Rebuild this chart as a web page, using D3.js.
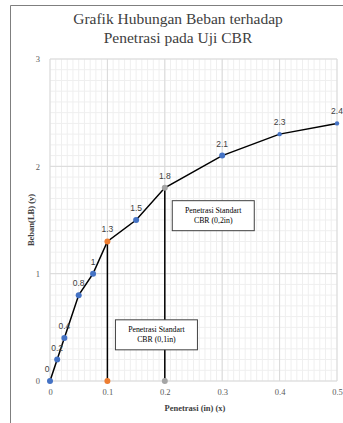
<!DOCTYPE html>
<html><head><meta charset="utf-8">
<script src="https://cdn.jsdelivr.net/npm/d3@7"></script>
<style>
html,body{margin:0;padding:0;background:#fff;}
svg{display:block;}
</style></head>
<body>
<script>
const titleLines = ["Grafik Hubungan Beban terhadap", "Penetrasi pada Uji CBR"];
const xLabel = "Penetrasi (in) (x)";
const yLabel = "Beban(LB) (y)";
const penetrasi = [0, 0.0125, 0.025, 0.05, 0.075, 0.1, 0.15, 0.2, 0.3, 0.4, 0.5];
const beban = [0, 0.2, 0.4, 0.8, 1, 1.3, 1.5, 1.8, 2.1, 2.3, 2.4];
const markerSize = [3, 3, 3, 3, 3, 3, 3, 3, 3, 2.2, 2.2];
const xTicks = [0, 0.1, 0.2, 0.3, 0.4, 0.5];
const xTickLabels = ["0", "0.1", "0.2", "0.3", "0.4", "0.5"];
const yTicks = [0, 1, 2, 3];
const stdX = [0.1, 0.2];
const stdY = [1.3, 1.8];
const stdColors = ["#ED7D31", "#A5A5A5"];
const stdLabels = [["Penetrasi Standart", "CBR (0,1in)"], ["Penetrasi Standart", "CBR (0,2in)"]];
const boxAnchor = [[0.114, 0.57], [0.213, 1.68]];

const W = 343, H = 423;
const svg = d3.select("body").append("svg").attr("width", W).attr("height", H);

svg.append("path").attr("d", `M10.5,${H} V5.5 H${W}`).attr("fill", "none").attr("stroke", "#7f7f7f").attr("stroke-width", 1);

const x = d3.scaleLinear().domain([0, 0.5]).range([50, 337]);
const y = d3.scaleLinear().domain([0, 3]).range([381, 59]);

const minorX = d3.range(0, 51).map(i => i / 100);
const minorY = d3.range(0, 31).map(i => i / 10);
const g = svg.append("g");
g.selectAll(".mx").data(minorX).join("line")
  .attr("x1", d => x(d)).attr("x2", d => x(d)).attr("y1", y(0)).attr("y2", y(3))
  .attr("stroke", "#efefef").attr("stroke-width", 1);
g.selectAll(".my").data(minorY).join("line")
  .attr("y1", d => y(d)).attr("y2", d => y(d)).attr("x1", x(0)).attr("x2", x(0.5))
  .attr("stroke", "#efefef").attr("stroke-width", 1);
g.selectAll(".Mx").data(xTicks).join("line")
  .attr("x1", d => x(d)).attr("x2", d => x(d)).attr("y1", y(0)).attr("y2", y(3))
  .attr("stroke", "#d9d9d9").attr("stroke-width", 1);
g.selectAll(".My").data(yTicks).join("line")
  .attr("y1", d => y(d)).attr("y2", d => y(d)).attr("x1", x(0)).attr("x2", x(0.5))
  .attr("stroke", "#d9d9d9").attr("stroke-width", 1);

const xAxis = svg.append("g").attr("transform", `translate(0,${y(0)})`)
  .call(d3.axisBottom(x).tickValues(xTicks).tickFormat((d, i) => xTickLabels[i]).tickSize(0).tickPadding(8));
xAxis.select(".domain").remove();
xAxis.selectAll("text").attr("font-family", "Liberation Serif, serif").attr("font-size", 8.5).attr("fill", "#595959");
const yAxis = svg.append("g").attr("transform", `translate(${x(0)},0)`)
  .call(d3.axisLeft(y).tickValues(yTicks).tickFormat(d3.format("d")).tickSize(0).tickPadding(10));
yAxis.select(".domain").remove();
yAxis.selectAll("text").attr("font-family", "Liberation Serif, serif").attr("font-size", 8.5).attr("fill", "#595959");

svg.append("text").attr("x", 178).attr("y", 0).attr("text-anchor", "middle")
  .attr("font-family", "Liberation Serif, serif").attr("font-size", 15.5).attr("fill", "#404040")
  .selectAll("tspan").data(titleLines).join("tspan")
  .attr("x", 178).attr("y", (d, i) => 24 + i * 19).text(d => d);

svg.append("text").attr("x", 195).attr("y", 411).attr("text-anchor", "middle")
  .attr("font-family", "Liberation Serif, serif").attr("font-size", 8.5).attr("font-weight", "bold").attr("fill", "#404040").text(xLabel);
svg.append("text").attr("transform", "translate(34,220) rotate(-90)").attr("text-anchor", "middle")
  .attr("font-family", "Liberation Serif, serif").attr("font-size", 8.5).attr("font-weight", "bold").attr("fill", "#404040").text(yLabel);

svg.selectAll(".std").data(stdX).join("line")
  .attr("x1", d => x(d)).attr("x2", d => x(d))
  .attr("y1", y(0)).attr("y2", (d, i) => y(stdY[i]))
  .attr("stroke", "#000").attr("stroke-width", 1.5);

const pts = penetrasi.map((d, i) => [d, beban[i]]);
svg.append("path").datum(pts)
  .attr("d", d3.line().x(d => x(d[0])).y(d => y(d[1])))
  .attr("fill", "none").attr("stroke", "#000").attr("stroke-width", 1.5);

svg.selectAll(".lbl").data(pts).join("text")
  .attr("x", (d, i) => x(d[0]) - (i === 0 ? 3 : 0)).attr("y", d => y(d[1]) - 9)
  .attr("text-anchor", "middle").attr("font-family", "Liberation Sans, Arial, sans-serif").attr("font-size", 8.5)
  .attr("fill", "#404040").text(d => d[1]);

svg.selectAll(".pt").data(pts).join("circle")
  .attr("cx", d => x(d[0])).attr("cy", d => y(d[1])).attr("r", (d, i) => markerSize[i])
  .attr("fill", (d) => d[0] === 0.1 ? "#ED7D31" : d[0] === 0.2 ? "#A5A5A5" : "#4472C4");

svg.selectAll(".stdpt").data(stdX).join("circle")
  .attr("cx", d => x(d)).attr("cy", y(0)).attr("r", 3)
  .attr("fill", (d, i) => stdColors[i]);

stdLabels.forEach((lines, i) => {
  const bx = x(boxAnchor[i][0]), by = y(boxAnchor[i][1]);
  svg.append("rect").attr("x", bx).attr("y", by).attr("width", 82).attr("height", 30)
    .attr("fill", "#fff").attr("stroke", "#404040").attr("stroke-width", 1);
  svg.append("text").attr("text-anchor", "middle")
    .attr("font-family", "Liberation Serif, serif").attr("font-size", 7.8).attr("fill", "#000")
    .selectAll("tspan").data(lines).join("tspan")
    .attr("x", bx + 41).attr("y", (d, j) => by + 12 + j * 10).text(d => d);
});
</script>
</body></html>
